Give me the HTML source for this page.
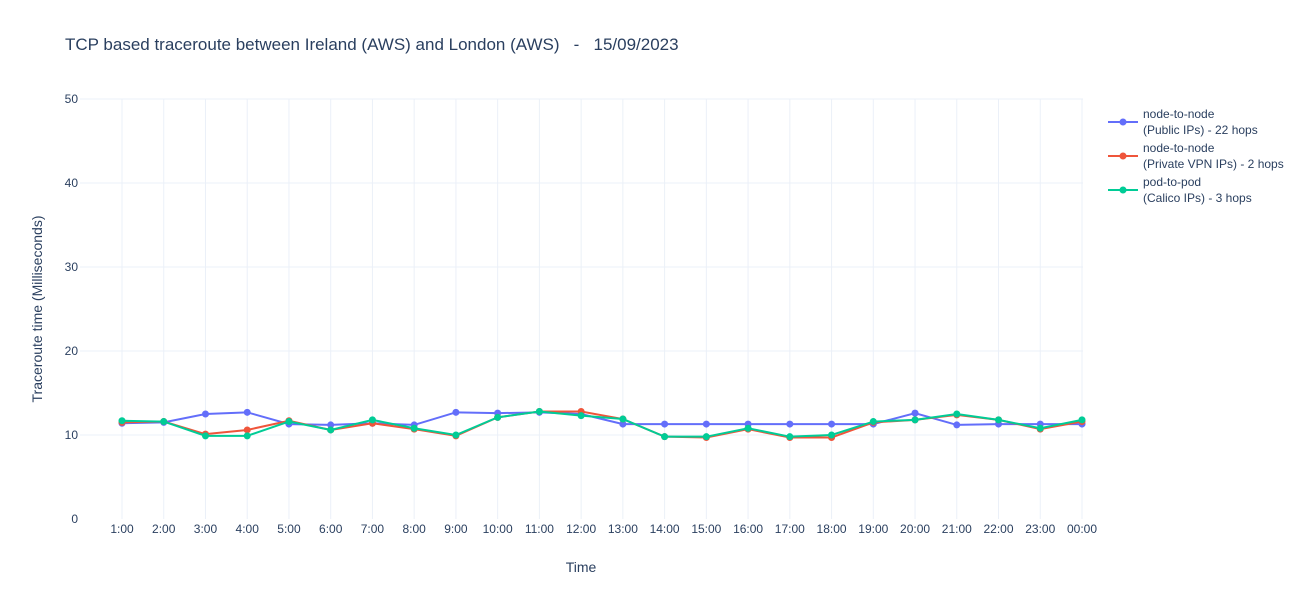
<!DOCTYPE html>
<html><head><meta charset="utf-8"><style>
body{margin:0;background:#fff;font-family:"Liberation Sans","DejaVu Sans",sans-serif;}
svg text{font-family:"Liberation Sans","DejaVu Sans",sans-serif;fill:#2a3f5f;}
</style></head><body>
<svg id="chart" width="1300" height="600" xmlns="http://www.w3.org/2000/svg">
<rect width="1300" height="600" fill="#fff"/>
<text x="65" y="50" font-size="17" style="white-space:pre" xml:space="preserve">TCP based traceroute between Ireland (AWS) and London (AWS)   -   15/09/2023</text>
<g id="grid"></g><g id="axes"></g><g id="series"></g>
<text x="581" y="572" font-size="14" text-anchor="middle">Time</text>
<text transform="translate(42,309) rotate(-90)" font-size="14" text-anchor="middle">Traceroute time (Milliseconds)</text>
<g id="legend"></g>
</svg>
<script>
const categories=["1:00","2:00","3:00","4:00","5:00","6:00","7:00","8:00","9:00","10:00","11:00","12:00","13:00","14:00","15:00","16:00","17:00","18:00","19:00","20:00","21:00","22:00","23:00","00:00"];
const publicVals=[11.4,11.5,12.5,12.7,11.3,11.2,11.4,11.2,12.7,12.6,12.7,12.5,11.3,11.3,11.3,11.3,11.3,11.3,11.3,12.6,11.2,11.3,11.3,11.3];
const vpnVals=[11.5,11.6,10.1,10.6,11.7,10.6,11.4,10.7,9.9,12.1,12.8,12.8,11.9,9.8,9.7,10.7,9.7,9.7,11.5,11.8,12.4,11.8,10.7,11.6];
const calicoVals=[11.7,11.6,9.9,9.9,11.6,10.6,11.8,10.8,10.0,12.1,12.8,12.3,11.9,9.8,9.8,10.8,9.8,10.0,11.6,11.8,12.5,11.8,10.8,11.8];
const yTicks=[0,10,20,30,40,50];
const seriesNames=[["node-to-node","(Public IPs) - 22 hops"],["node-to-node","(Private VPN IPs) - 2 hops"],["pod-to-pod","(Calico IPs) - 3 hops"]];
const colors=["#636efa","#ef553b","#00cc96"];
const NS="http://www.w3.org/2000/svg";
const X0=80,X1=1083,Y0=519,Y1=99;
const xs=i=>122+i*(1082-122)/(categories.length-1);
const ys=v=>Y0-(v-0)/(50-0)*(Y0-Y1);
function mk(tag,attrs,parent){const e=document.createElementNS(NS,tag);for(const k in attrs)e.setAttribute(k,attrs[k]);parent.appendChild(e);return e;}
const grid=document.getElementById('grid'),axes=document.getElementById('axes'),ser=document.getElementById('series'),leg=document.getElementById('legend');
categories.forEach((c,i)=>{
  const l=mk('line',{x1:xs(i),x2:xs(i),y1:Y1,y2:Y0,stroke:'#ebf0f8','stroke-width':1},grid);
  
  
  const t=mk('text',{x:xs(i),y:533,'font-size':12,'text-anchor':'middle'},axes);
  t.textContent=c;
  
  
});
yTicks.forEach(v=>{
  if(v>0){const l=mk('line',{x1:X0,x2:X1,y1:ys(v),y2:ys(v),stroke:'#ebf0f8','stroke-width':1},grid);
  
  }
  const t=mk('text',{x:X0-2,y:ys(v)+4,'font-size':12,'text-anchor':'end'},axes);
  t.textContent=v;
  
  
});
[publicVals,vpnVals,calicoVals].forEach((vals,s)=>{
  const g=mk('g',{},ser);
  
  
  const p=mk('polyline',{points:vals.map((v,i)=>xs(i)+','+ys(v)).join(' '),fill:'none',stroke:colors[s],'stroke-width':2},g);
  
  
  vals.forEach((v,i)=>{const c=mk('circle',{cx:xs(i),cy:ys(v),r:3.5,fill:colors[s]},g);
    
    });
  const ly=122+s*34;
  const lg=mk('g',{},leg);
  
  
  mk('line',{x1:1108,x2:1138,y1:ly,y2:ly,stroke:colors[s],'stroke-width':2},lg);
  mk('circle',{cx:1123,cy:ly,r:3.5,fill:colors[s]},lg);
  const t1=mk('text',{x:1143,y:ly-4,'font-size':12},lg);t1.textContent=seriesNames[s][0];
  const t2=mk('text',{x:1143,y:ly+12,'font-size':12},lg);t2.textContent=seriesNames[s][1];
});
</script>
</body></html>
